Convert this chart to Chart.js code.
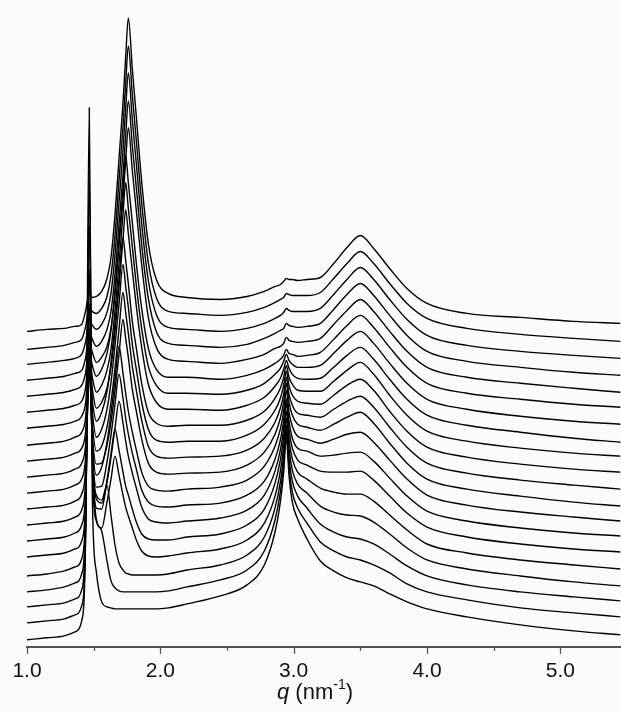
<!DOCTYPE html>
<html>
<head>
<meta charset="utf-8">
<script src="https://cdn.jsdelivr.net/npm/chart.js@4.4.0/dist/chart.umd.min.js"></script>
<style>
  html, body { margin: 0; padding: 0; background: #fbfbfb; }
  #wrap { width: 621px; height: 713px; }
</style>
</head>
<body>
<div id="wrap"><canvas id="chart" width="621" height="713"></canvas></div>
<script>
// scattering vector q (nm^-1), shared by every scan
const qValues = [1.00, 1.15, 1.28, 1.36, 1.41, 1.44, 1.467,
    1.49, 1.52, 1.56, 1.60, 1.63, 1.66, 1.69, 1.72, 1.74, 1.76, 1.79, 1.82, 1.86, 1.91, 1.97, 2.06, 2.20,
    2.45, 2.65, 2.78, 2.86, 2.90, 2.925, 2.945, 2.965, 2.99, 3.03,
    3.10, 3.20, 3.30, 3.40, 3.50, 3.60, 3.72, 3.85, 4.00,
    4.30, 4.70, 5.10, 5.45];

// intensity (a.u.) of each scan, bottom trace first, before the waterfall shift
const scan01 = [7, 9, 11, 15, 26, 115, 540, 150, 75, 45, 40, 39, 38, 38, 38, 38, 38, 38, 38, 38, 38, 38, 39, 43, 51, 62, 82, 115, 145, 175, 210, 172, 145, 128, 108, 86, 76, 69, 65, 61, 53, 45, 38, 30, 22, 16, 12];
const scan02 = [8, 10, 12, 16, 25, 100, 460, 160, 110, 100, 70, 50, 43, 40, 39, 39, 39, 39, 39, 39, 39, 39, 40, 44, 51, 61, 80, 111, 139, 167, 200, 164, 139, 123, 108, 89, 80, 74, 71, 66, 58, 47, 39, 31, 23, 18, 14];
const scan03 = [8, 10, 12, 16, 25, 90, 390, 170, 120, 115, 130, 100, 70, 52, 45, 42, 41, 40, 40, 40, 40, 40, 41, 45, 50, 60, 78, 107, 133, 159, 190, 157, 134, 119, 107, 91, 83, 78, 76, 71, 61, 49, 39, 30, 23, 18, 14];
const scan04 = [7, 9, 12, 16, 25, 80, 330, 150, 80, 71, 97, 120, 143, 124, 104, 92, 83, 71, 59, 48, 43, 42, 43, 46, 50, 59, 76, 103, 128, 152, 181, 150, 129, 115, 106, 93, 87, 84, 83, 77, 65, 51, 39, 30, 23, 17, 13];
const scan05 = [7, 9, 12, 16, 24, 72, 280, 130, 75, 74, 103, 129, 154, 133, 111, 97, 88, 74, 61, 49, 44, 43, 43, 46, 49, 58, 74, 100, 123, 146, 172, 144, 124, 111, 104, 95, 91, 89, 89, 82, 68, 53, 39, 30, 23, 18, 14];
const scan06 = [10, 12, 14, 18, 26, 66, 240, 115, 68, 64, 85, 110, 139, 166, 144, 126, 111, 94, 79, 60, 48, 45, 44, 46, 49, 57, 72, 96, 117, 139, 164, 137, 119, 107, 102, 96, 95, 95, 96, 87, 71, 54, 40, 30, 23, 18, 15];
const scan07 = [10, 12, 14, 18, 26, 60, 205, 105, 64, 65, 89, 116, 147, 177, 153, 133, 117, 98, 82, 61, 49, 45, 44, 46, 48, 56, 70, 92, 111, 131, 153, 130, 113, 103, 100, 95, 96, 98, 99, 90, 73, 55, 40, 30, 23, 18, 15];
const scan08 = [10, 12, 14, 18, 25, 55, 175, 95, 60, 68, 93, 122, 156, 189, 162, 142, 124, 103, 85, 63, 49, 45, 44, 46, 48, 55, 69, 89, 106, 124, 145, 123, 109, 99, 96, 92, 96, 101, 103, 93, 75, 56, 40, 30, 23, 18, 14];
const scan09 = [10, 12, 14, 18, 25, 50, 150, 85, 55, 56, 74, 97, 129, 165, 200, 181, 162, 130, 108, 80, 56, 47, 45, 46, 47, 54, 67, 85, 101, 117, 136, 117, 104, 95, 92, 89, 95, 102, 107, 96, 76, 56, 40, 30, 23, 17, 13];
const scan10 = [10, 12, 14, 18, 24, 46, 130, 80, 52, 57, 76, 101, 135, 174, 211, 191, 170, 137, 113, 83, 57, 47, 45, 46, 47, 53, 65, 81, 95, 109, 126, 109, 98, 90, 88, 86, 94, 102, 107, 96, 76, 56, 40, 30, 23, 18, 14];
const scan11 = [10, 12, 14, 18, 24, 43, 115, 75, 50, 58, 78, 105, 142, 183, 223, 201, 180, 143, 118, 85, 58, 47, 45, 46, 46, 52, 63, 77, 89, 102, 116, 102, 92, 86, 84, 83, 92, 102, 108, 97, 76, 56, 40, 30, 23, 18, 15];
const scan12 = [10, 12, 14, 18, 23, 40, 100, 70, 50, 59, 80, 109, 148, 192, 234, 211, 188, 150, 123, 88, 59, 48, 45, 46, 46, 51, 60, 73, 83, 94, 106, 94, 87, 81, 80, 80, 90, 101, 109, 97, 76, 56, 40, 30, 23, 18, 15];
const scan13 = [10, 12, 14, 18, 23, 38, 90, 66, 47, 53, 67, 88, 124, 169, 216, 246, 222, 185, 149, 108, 71, 53, 46, 46, 45, 50, 58, 69, 77, 86, 95, 87, 81, 77, 76, 77, 88, 100, 108, 96, 76, 56, 40, 30, 23, 17, 13];
const scan14 = [11, 13, 15, 18, 23, 37, 80, 62, 47, 54, 69, 90, 129, 176, 225, 257, 231, 193, 154, 111, 73, 54, 46, 46, 45, 49, 56, 65, 71, 78, 85, 79, 75, 72, 72, 74, 86, 99, 108, 96, 76, 56, 40, 30, 23, 18, 15];
const scan15 = [11, 13, 15, 18, 22, 36, 72, 58, 47, 54, 70, 93, 133, 183, 234, 268, 241, 201, 160, 115, 75, 54, 46, 46, 44, 48, 54, 60, 64, 68, 74, 70, 69, 67, 68, 71, 84, 98, 108, 96, 76, 56, 40, 30, 24, 19, 16];
const scan16 = [11, 13, 15, 18, 22, 35, 65, 55, 45, 50, 61, 79, 114, 162, 209, 247, 280, 237, 197, 143, 90, 60, 48, 46, 44, 48, 53, 59, 61, 64, 70, 67, 66, 65, 66, 69, 83, 97, 108, 96, 76, 56, 40, 30, 24, 19, 15];
const scan17 = [11, 13, 15, 18, 21, 34, 60, 52, 45, 50, 62, 80, 117, 167, 217, 256, 291, 246, 204, 147, 93, 60, 48, 46, 44, 47, 53, 58, 61, 63, 68, 66, 65, 64, 65, 68, 82, 97, 108, 96, 76, 56, 40, 30, 24, 19, 16];
const scan18 = [11, 13, 15, 17, 21, 34, 55, 50, 46, 51, 63, 82, 121, 173, 225, 267, 303, 256, 212, 152, 95, 61, 48, 46, 44, 47, 52, 57, 60, 63, 67, 65, 64, 64, 64, 67, 81, 96, 108, 96, 76, 56, 40, 30, 24, 20, 17];
const scan19 = [10, 12, 14, 17, 20, 33, 52, 48, 46, 51, 63, 84, 124, 179, 233, 276, 314, 265, 219, 157, 97, 62, 48, 46, 44, 47, 52, 57, 60, 62, 66, 65, 64, 64, 64, 67, 81, 96, 108, 96, 76, 56, 41, 31, 25, 21, 18];
const scan20 = [12, 14, 15, 17, 19, 33, 50, 46, 47, 52, 65, 86, 129, 185, 241, 287, 326, 275, 227, 162, 100, 64, 50, 46, 44, 47, 52, 57, 59, 62, 65, 64, 64, 63, 64, 66, 80, 96, 108, 95, 75, 55, 40, 30, 26, 22, 20];

const scans = [scan01, scan02, scan03, scan04, scan05, scan06, scan07, scan08, scan09, scan10,
               scan11, scan12, scan13, scan14, scan15, scan16, scan17, scan18, scan19, scan20];

// vertical shift between successive scans (a.u.)
const offsetStep = 16;

// x axis ticks: every 0.5, labelled on whole numbers
const tickValues = [1.0, 1.5, 2.0, 2.5, 3.0, 3.5, 4.0, 4.5, 5.0];
const labelValues = [1.0, 2.0, 3.0, 4.0, 5.0];

const fontFamily = '"Liberation Sans", Arial, Helvetica, sans-serif';

// small tick marks under the axis line
const tickMarks = {
    id: 'tickMarks',
    afterDraw(chart) {
        const ctx = chart.ctx;
        const xs = chart.scales.x;
        const y0 = chart.chartArea.bottom;
        ctx.save();
        ctx.strokeStyle = '#555';
        ctx.lineWidth = 1.3;
        tickValues.forEach(function(v) {
            const px = Math.round(xs.getPixelForValue(v)) + 0.5;
            const len = Number.isInteger(v) ? 7 : 4;
            ctx.beginPath();
            ctx.moveTo(px, y0);
            ctx.lineTo(px, y0 + len);
            ctx.stroke();
        });
        ctx.restore();
    }
};

// axis title with italic q and superscript -1
const axisTitle = {
    id: 'axisTitle',
    afterDraw(chart) {
        const ctx = chart.ctx;
        const xs = chart.scales.x;
        const cx = xs.getPixelForValue(3.16);
        const base = 699;
        const parts = [
            { t: 'q', font: 'italic 22px ' + fontFamily, dy: 0 },
            { t: ' (nm', font: '22px ' + fontFamily, dy: 0 },
            { t: '-1', font: '14px ' + fontFamily, dy: -10 },
            { t: ')', font: '22px ' + fontFamily, dy: 0 }
        ];
        ctx.save();
        ctx.fillStyle = '#111';
        ctx.textBaseline = 'alphabetic';
        let total = 0;
        parts.forEach(function(p) { ctx.font = p.font; p.w = ctx.measureText(p.t).width; total += p.w; });
        let x = cx - total / 2;
        parts.forEach(function(p) {
            ctx.font = p.font;
            ctx.fillText(p.t, x, base + p.dy);
            x += p.w;
        });
        ctx.restore();
    }
};

const datasets = scans.map(function(scan, i) {
    return {
        data: qValues.map(function(q, k) { return { x: q, y: scan[k] + i * offsetStep }; }),
        borderColor: '#000',
        borderWidth: 1.4,
        pointRadius: 0,
        fill: false,
        cubicInterpolationMode: 'monotone'
    };
});

new Chart(document.getElementById('chart').getContext('2d'), {
    type: 'line',
    data: { datasets: datasets },
    plugins: [tickMarks, axisTitle],
    options: {
        responsive: false,
        animation: false,
        layout: { padding: { left: 27, right: 0, top: 8, bottom: 17 } },
        plugins: {
            legend: { display: false },
            tooltip: { enabled: false }
        },
        scales: {
            x: {
                type: 'linear',
                min: 1.0,
                max: 5.455,
                afterBuildTicks: function(scale) {
                    scale.ticks = labelValues.map(function(v) { return { value: v }; });
                },
                ticks: {
                    padding: 12,
                    color: '#111',
                    font: { family: fontFamily, size: 21 },
                    maxRotation: 0,
                    callback: function(v) { return Number(v).toFixed(1); }
                },
                grid: { display: true, drawOnChartArea: false, drawTicks: false },
                border: { display: true, color: '#555', width: 2 }
            },
            y: {
                display: false,
                min: 0,
                max: 640
            }
        }
    }
});
</script>
</body>
</html>
